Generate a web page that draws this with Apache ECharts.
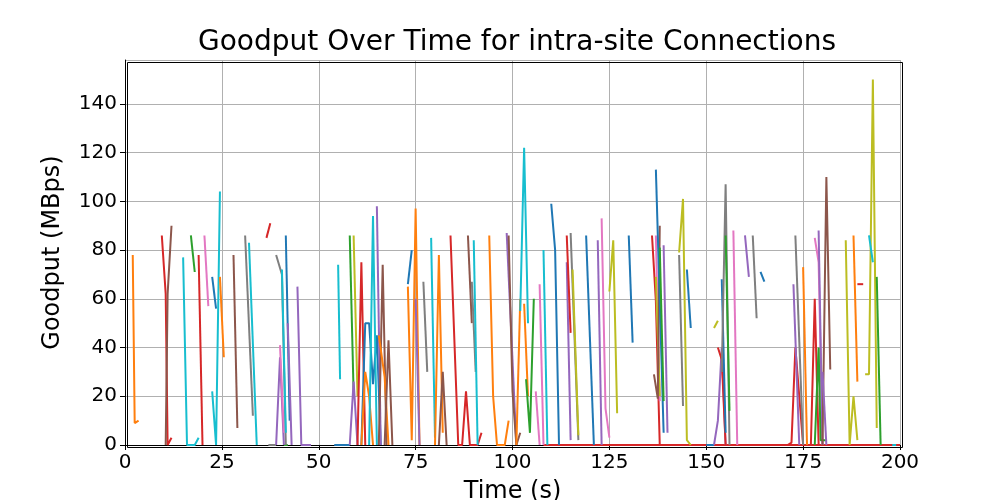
<!DOCTYPE html>
<html><head><meta charset="utf-8">
<script src="https://cdn.jsdelivr.net/npm/echarts@6/dist/echarts.min.js"></script>
<style>html,body{margin:0;padding:0;background:#fff}#c{width:1000px;height:500px}</style>
</head><body><div id="c"></div>
<script>
const xTicks=[0,25,50,75,100,125,150,175,200];
const yTicks=[0,20,40,60,80,100,120,140];
const palette={b:'#1f77b4',o:'#ff7f0e',g:'#2ca02c',r:'#d62728',p:'#9467bd',n:'#8c564b',k:'#e377c2',a:'#7f7f7f',y:'#bcbd22',c:'#17becf'};
// connection segments: colour key, then [time, goodput] points
const segColors=[];
const segments=[];
function S(col,pts){segColors.push(col);segments.push(pts);}
S('r',[[108,0],[200,0]]);
S('b',[[54,0],[58,0]]);S('g',[[41,0],[42,0]]);S('a',[[37,0],[39,0]]);S('b',[[150,0],[152,0]]);S('c',[[198,0],[199,0]]);
S('o',[[2,78],[2.5,9],[3.5,10]]);
S('r',[[9.5,86],[10.5,62],[11,0],[12,3]]);
S('n',[[10.5,0],[11,62],[12,90]]);
S('c',[[15,77],[16,0],[18,0],[19,3]]);
S('g',[[17,86],[18,71]]);
S('r',[[19,78],[20,0]]);
S('k',[[20.5,86],[21.5,57]]);
S('b',[[22.5,69],[23.5,56]]);
S('c',[[22.5,22],[23.5,0],[24.5,104]]);
S('o',[[24.5,69],[25.5,36]]);
S('n',[[28,78],[29,7]]);
S('a',[[31,86],[33,12]]);
S('c',[[32,83],[34,0]]);
S('r',[[36.5,85],[37.5,91]]);
S('a',[[39,78],[40.5,70],[41.5,0]]);
S('p',[[39,0],[40,36],[41,0]]);
S('k',[[40,41],[41,5]]);
S('c',[[40.5,72],[41.5,5]]);
S('b',[[41.5,86],[42.5,10]]);
S('p',[[42,50],[43,0]]);
S('p',[[44.5,65],[45.5,0],[48,0]]);
S('c',[[55,74],[55.5,27]]);
S('g',[[58,86],[59,21]]);
S('y',[[59,86],[60,20]]);
S('p',[[58,0],[59,26],[60,0]]);
S('r',[[60,0],[61,75],[61.5,75],[62,0]]);
S('b',[[61,0],[62,50],[63,50],[64,25],[65,45],[66,0]]);
S('o',[[61,0],[62,30],[63,20],[64,0]]);
S('c',[[63,0],[64,94],[65,0]]);
S('p',[[65,98],[66,0]]);
S('n',[[65.5,0],[66.5,74],[67.5,0]]);
S('o',[[65.5,45],[67,28],[68,0]]);
S('n',[[67,0],[68,43],[69,0]]);
S('o',[[73,65],[74,2],[75,97],[76,0]]);
S('b',[[73,66],[74,80]]);
S('p',[[75,60],[76,0]]);
S('a',[[77,67],[78,30]]);
S('c',[[79,85],[80,3]]);
S('o',[[80,0],[81,78],[82,5]]);
S('n',[[81,0],[82,30],[83,0]]);
S('r',[[84,86],[86,0],[87,0],[88,22],[89,0],[91,0],[92,5]]);
S('n',[[88.5,86],[89.5,50]]);
S('a',[[89.5,67],[90.5,30]]);
S('c',[[90,84],[91,0]]);
S('o',[[94,86],[95,20],[96,0],[98,0],[99,10]]);
S('p',[[98.5,87],[101,0]]);
S('n',[[99,86],[100,22],[101,0],[102,5]]);
S('o',[[101,0],[102,60]]);
S('c',[[102,55],[103,122],[104,50]]);
S('o',[[103,58],[104,20]]);
S('g',[[103.5,27],[104.5,5],[105.5,60]]);
S('k',[[106,22],[107,0]]);
S('k',[[107,66],[108,0]]);
S('c',[[108,80],[109,0]]);
S('b',[[110,99],[111,80],[112,0]]);
S('p',[[114,75],[115,2]]);
S('r',[[114,86],[115,46]]);
S('a',[[115,87],[117,2]]);
S('y',[[115.5,72],[117,4]]);
S('b',[[119,86],[121,0]]);
S('p',[[122,84],[123,0]]);
S('k',[[123,93],[124,15],[125,3]]);
S('y',[[125,63],[126,84],[127,13]]);
S('b',[[130,86],[131,42]]);
S('r',[[136,86],[137,59],[138,0]]);
S('k',[[137,86],[138,18]]);
S('y',[[137,69],[138,20]]);
S('n',[[136.5,29],[137.5,19],[138,90]]);
S('b',[[137,113],[139,5]]);
S('g',[[138,81],[139,18]]);
S('p',[[139,82],[140,5]]);
S('y',[[143,79],[144,101],[145,2],[146,0]]);
S('a',[[143,78],[144,16]]);
S('b',[[145,72],[146,48]]);
S('y',[[152,48],[153,51]]);
S('p',[[152,0],[153,10],[154,40],[155,0]]);
S('r',[[153,40],[154,35],[155,0]]);
S('b',[[154,68],[155,5]]);
S('a',[[154,30],[155,107],[156,0]]);
S('g',[[155,86],[156,14]]);
S('k',[[157,88],[158,0]]);
S('p',[[160,86],[161,69]]);
S('a',[[162,86],[163,52]]);
S('b',[[164,71],[165,67]]);
S('r',[[171,0],[172,1],[173,40],[174,20],[175,0]]);
S('p',[[172.5,66],[174,0]]);
S('a',[[173,86],[175,0]]);
S('o',[[175,73],[176,0]]);
S('r',[[177,0],[178,60],[179,0]]);
S('k',[[178,85],[179,75],[180,0]]);
S('p',[[179,88],[180,0]]);
S('g',[[178,0],[179,40],[179.5,2],[181,2]]);
S('n',[[180,0],[181,110],[182,31]]);
S('p',[[180,30],[181,0]]);
S('y',[[186,84],[187,0],[188,20],[189,2]]);
S('o',[[188,86],[189,26]]);
S('r',[[189,66],[190.5,66]]);
S('y',[[191,29],[192,29],[193,150],[194,7]]);
S('c',[[192,86],[193,75]]);
S('g',[[194,69],[195,0]]);

const series=segments.map((pts,i)=>({type:'line',data:pts,showSymbol:false,symbol:'none',
  lineStyle:{width:2,color:palette[segColors[i]]},itemStyle:{color:palette[segColors[i]]},animation:false}));
const ch=echarts.init(document.getElementById('c'));
const ax={color:'#000'};
ch.setOption({
  animation:false,
  title:{text:'Goodput Over Time for intra-site Connections',left:512,top:24,textAlign:'center',
    textStyle:{fontFamily:'DejaVu Sans',fontSize:28,fontWeight:'normal',color:'#000'}},
  grid:{left:125,right:100,top:60,bottom:55,outerBoundsMode:'none',containLabel:false},
  xAxis:{type:'value',min:0,max:200,interval:25,name:'Time (s)',nameLocation:'middle',nameGap:35,
    nameTextStyle:{fontFamily:'DejaVu Sans',fontSize:24,color:'#000'},
    axisLine:{onZero:false,lineStyle:ax},axisTick:{length:5,lineStyle:ax},
    axisLabel:{fontFamily:'DejaVu Sans',fontSize:20,color:'#000',margin:8},
    splitLine:{show:true,lineStyle:{color:'#b0b0b0',width:1}}},
  yAxis:{type:'value',min:0,max:158,interval:20,name:'Goodput (MBps)',nameLocation:'middle',nameGap:60,
    nameTextStyle:{fontFamily:'DejaVu Sans',fontSize:24,color:'#000'},
    axisLine:{show:true,lineStyle:ax},axisTick:{show:true,length:5,lineStyle:ax},
    axisLabel:{fontFamily:'DejaVu Sans',fontSize:20,color:'#000',margin:8,showMaxLabel:false},
    splitLine:{show:true,lineStyle:{color:'#b0b0b0',width:1}}},
  graphic:[{type:'rect',left:125,top:60,shape:{width:775,height:385},style:{fill:'none',stroke:'#000',lineWidth:1},z:100,silent:true}],
  series:series
});
</script></body></html>
